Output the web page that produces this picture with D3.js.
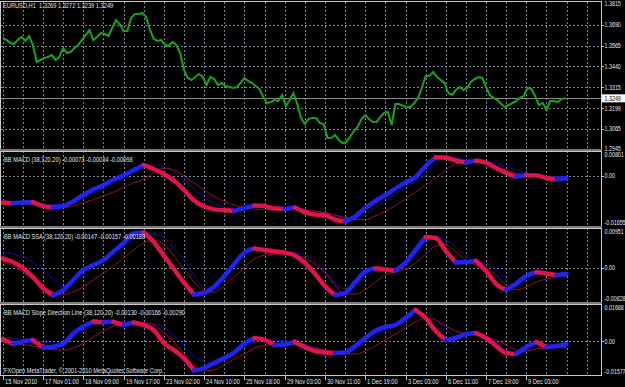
<!DOCTYPE html>
<html><head><meta charset="utf-8">
<script src="https://cdn.jsdelivr.net/npm/d3@7"></script>
<style>
body{margin:0;background:#000}
svg{display:block}
text{font-family:"Liberation Sans",Arial,sans-serif;font-size:6.7px;fill:#e4e4e4;white-space:pre}
</style></head><body>
<script>
// ---------------- DATA ----------------
const symbolTitle = "EURUSD,H1  1.3269 1.3272 1.3239 1.3249";
const lastPrice = 1.3249;
const priceMin = 1.2945, priceMax = 1.3815;
const priceTicks = [1.3690, 1.3565, 1.3440, 1.3315, 1.3190, 1.3065];
const priceTickLabels = ["1.3690", "1.3565", "1.3440", "1.3315", "1.3199", "1.3065"];
const timeLabels = ["15 Nov 2010","17 Nov 01:00","18 Nov 09:00","19 Nov 17:00","23 Nov 02:00","24 Nov 10:00","25 Nov 18:00","29 Nov 03:00","30 Nov 11:00","1 Dec 19:00","3 Dec 03:00","6 Dec 11:00","7 Dec 19:00","9 Dec 03:00"];
const timeLabelBars = [0,32,64,96,128,160,192,224,256,288,320,352,384,416];
const copyright = "FXOpen MetaTrader, \u00A9 2001-2010 MetaQuotes Software Corp.";

// close every 3 H1 bars
const PRICE_STEP = 3;
const priceClose = [1.3611,1.3599,1.3581,1.3575,1.3599,1.3617,1.3593,1.3623,1.3569,1.3467,
1.3479,1.3491,1.3497,1.3509,1.3479,1.3497,1.3551,1.3521,1.3527,1.3551,
1.3569,1.3599,1.3629,1.3659,1.3599,1.3617,1.3641,1.3635,1.3623,1.3671,
1.3719,1.3695,1.3653,1.3653,1.3731,1.3755,1.3755,1.3761,1.3737,1.3659,
1.3605,1.3593,1.3599,1.3569,1.3563,1.3587,1.3569,1.3521,1.3419,1.3371,
1.3359,1.3377,1.3395,1.3377,1.3329,1.3377,1.3365,1.3329,1.3341,1.3323,
1.3317,1.3311,1.3317,1.3341,1.3371,1.3353,1.3341,1.3323,1.3305,1.3257,
1.3221,1.3227,1.3239,1.3233,1.3269,1.3203,1.3239,1.3281,1.3215,1.3131,
1.3095,1.3125,1.3131,1.3131,1.3101,1.3095,1.3011,1.3011,1.3029,1.2999,
1.2981,1.2987,1.3017,1.3053,1.3077,1.3125,1.3149,1.3125,1.3107,1.3107,
1.3137,1.3161,1.3167,1.3089,1.3215,1.3215,1.3203,1.3197,1.3197,1.3221,
1.3251,1.3311,1.3383,1.3383,1.3407,1.3377,1.3359,1.3341,1.3281,1.3269,
1.3299,1.3317,1.3299,1.3311,1.3347,1.3365,1.3377,1.3371,1.3317,1.3269,
1.3251,1.3239,1.3215,1.3197,1.3209,1.3221,1.3233,1.3251,1.3263,1.3311,
1.3305,1.3263,1.3209,1.3221,1.3179,1.3233,1.3233,1.3227,1.3245,1.3249];

// indicators every 8 H1 bars
const IND_STEP = 8;
const macdLine = [-0.00876,-0.00903,-0.00876,-0.00860,-0.00993,-0.01042,-0.00993,-0.00843,-0.00627,-0.00445,
-0.00295,-0.00113,0.00020,0.00203,0.00369,0.00236,0.00070,-0.00146,-0.00461,-0.00810,
-0.01009,-0.01102,-0.01135,-0.01159,-0.01059,-0.00976,-0.00993,-0.01076,-0.01092,-0.01042,
-0.01192,-0.01275,-0.01301,-0.01441,-0.01501,-0.01341,-0.01059,-0.00827,-0.00627,-0.00412,
-0.00212,-0.00030,0.00335,0.00624,0.00608,0.00518,0.00452,0.00508,0.00452,0.00269,
0.00103,-0.00013,0.00030,0.00020,-0.00063,-0.00106,-0.00073];
const macdUpper = [-0.00843,-0.00860,-0.00876,-0.00893,-0.00910,-0.00943,-0.00943,-0.00876,-0.00727,-0.00561,
-0.00395,-0.00229,-0.00063,0.00103,0.00269,0.00369,0.00302,0.00120,-0.00129,-0.00428,
-0.00694,-0.00910,-0.01026,-0.01092,-0.01092,-0.01042,-0.01009,-0.01026,-0.01042,-0.01059,
-0.01109,-0.01159,-0.01208,-0.01291,-0.01391,-0.01424,-0.01291,-0.01059,-0.00827,-0.00594,
-0.00362,-0.00163,0.00103,0.00402,0.00601,0.00601,0.00551,0.00518,0.00485,0.00418,
0.00319,0.00203,0.00103,0.00037,0.00000,-0.00020,-0.00034];
const macdLower = [-0.00893,-0.00910,-0.00926,-0.00943,-0.00976,-0.01009,-0.01042,-0.00993,-0.00893,-0.00777,
-0.00661,-0.00528,-0.00378,-0.00229,-0.00096,0.00120,0.00269,0.00203,0.00003,-0.00229,
-0.00461,-0.00677,-0.00843,-0.00959,-0.01042,-0.01092,-0.01109,-0.01109,-0.01109,-0.01109,
-0.01125,-0.01159,-0.01208,-0.01291,-0.01374,-0.01441,-0.01441,-0.01325,-0.01159,-0.00976,
-0.00760,-0.00528,-0.00295,-0.00046,0.00203,0.00402,0.00485,0.00468,0.00402,0.00302,
0.00203,0.00103,0.00020,-0.00013,-0.00046,-0.00080,-0.00098];

const ssaLine = [0.00232,0.00146,0.00000,-0.00219,-0.00487,-0.00665,-0.00536,-0.00292,-0.00049,0.00073,
0.00195,0.00402,0.00609,0.00841,0.00865,0.00634,0.00305,-0.00024,-0.00353,-0.00646,
-0.00609,-0.00451,-0.00195,0.00097,0.00378,0.00475,0.00439,0.00402,0.00378,0.00305,
0.00122,-0.00134,-0.00439,-0.00658,-0.00609,-0.00341,-0.00085,-0.00007,-0.00037,-0.00061,
0.00134,0.00439,0.00755,0.00731,0.00414,0.00134,0.00146,0.00171,-0.00073,-0.00390,
-0.00536,-0.00378,-0.00195,-0.00097,-0.00134,-0.00171,-0.00147];
const ssaUpper = [0.00390,0.00341,0.00280,0.00146,-0.00049,-0.00268,-0.00463,-0.00414,-0.00146,0.00049,
0.00171,0.00341,0.00536,0.00707,0.00804,0.00816,0.00755,0.00487,0.00195,-0.00171,
-0.00463,-0.00512,-0.00292,0.00024,0.00317,0.00463,0.00451,0.00426,0.00402,0.00378,
0.00317,0.00171,-0.00073,-0.00366,-0.00512,-0.00439,-0.00171,-0.00024,0.00000,-0.00012,
0.00049,0.00317,0.00658,0.00780,0.00682,0.00512,0.00292,0.00171,0.00122,-0.00049,
-0.00292,-0.00439,-0.00317,-0.00195,-0.00146,-0.00146,-0.00157];
const ssaLower = [0.00146,0.00049,-0.00097,-0.00268,-0.00439,-0.00585,-0.00658,-0.00585,-0.00463,-0.00292,
-0.00122,0.00049,0.00244,0.00439,0.00609,0.00682,0.00585,0.00292,-0.00024,-0.00341,
-0.00561,-0.00585,-0.00439,-0.00219,0.00024,0.00219,0.00317,0.00341,0.00341,0.00317,
0.00244,0.00097,-0.00122,-0.00414,-0.00634,-0.00634,-0.00536,-0.00341,-0.00171,-0.00097,
-0.00024,0.00122,0.00341,0.00536,0.00561,0.00390,0.00195,0.00073,0.00000,-0.00171,
-0.00414,-0.00536,-0.00463,-0.00341,-0.00268,-0.00219,-0.00188];

const slopeLine = [0.00103,-0.00131,-0.00014,0.00056,-0.00294,-0.00261,-0.00131,0.00359,0.00686,0.00919,
0.00881,0.00905,0.00756,0.00872,0.00756,0.00522,-0.00084,-0.00410,-0.00807,-0.01367,
-0.01250,-0.01017,-0.00784,-0.00527,-0.00107,0.00149,0.00056,-0.00177,-0.00154,-0.00023,
-0.00271,-0.00457,-0.00527,-0.00550,-0.00527,-0.00224,0.00149,0.00476,0.00662,0.00756,
0.01082,0.01455,0.01082,0.00476,0.00056,0.00149,0.00336,0.00382,0.00149,-0.00224,
-0.00550,-0.00597,-0.00271,-0.00037,-0.00271,-0.00224,-0.00130];
const slopeUpper = [0.00196,0.00149,0.00079,0.00033,-0.00037,-0.00084,-0.00037,0.00196,0.00476,0.00756,
0.00849,0.00895,0.00895,0.00872,0.00849,0.00802,0.00662,0.00243,-0.00224,-0.00690,
-0.00970,-0.01063,-0.00877,-0.00597,-0.00271,-0.00037,0.00079,0.00056,0.00009,-0.00037,
-0.00131,-0.00271,-0.00410,-0.00504,-0.00504,-0.00364,-0.00084,0.00243,0.00522,0.00709,
0.00942,0.01222,0.01269,0.00989,0.00522,0.00243,0.00243,0.00289,0.00243,-0.00037,
-0.00410,-0.00597,-0.00457,-0.00224,-0.00177,-0.00177,-0.00166];
const slopeLower = [-0.00037,-0.00084,-0.00154,-0.00224,-0.00317,-0.00387,-0.00410,-0.00317,-0.00107,0.00196,
0.00476,0.00709,0.00826,0.00849,0.00849,0.00756,0.00429,-0.00037,-0.00597,-0.01157,
-0.01390,-0.01343,-0.01110,-0.00830,-0.00597,-0.00317,-0.00201,-0.00177,-0.00177,-0.00177,
-0.00224,-0.00317,-0.00410,-0.00527,-0.00597,-0.00597,-0.00457,-0.00224,0.00056,0.00336,
0.00616,0.00895,0.01082,0.00989,0.00709,0.00476,0.00336,0.00289,0.00196,0.00056,
-0.00177,-0.00410,-0.00457,-0.00364,-0.00317,-0.00294,-0.00290];

const indicatorTitles = [
  "BB MACD (38,120,20) -0.00073 -0.00034 -0.00098",
  "BB MACD SSA (38,120,20) -0.00147 -0.00157 -0.00188",
  "BB MACD Slope Direction Line (38,120,20) -0.00130 -0.00166 -0.00290"];
const indicatorMin = [-0.01655, -0.00828, -0.01577];
const indicatorMax = [0.00801, 0.00951, 0.01688];
const indicatorMinLabels = ["-0.01655", "-0.00828", "-0.01577"];
const indicatorMaxLabels = ["0.00801", "0.00951", "0.01688"];

// ---------------- LAYOUT ----------------
const W = 625, H = 387;
const PLOT_L = 1, PLOT_R = 601;
const mainBox = {top: 2, bottom: 149};
const indBoxes = [{top:152, bottom:226}, {top:229, bottom:302}, {top:305, bottom:375}];
const sepY = [150, 227, 303];
const GRID = "#7a8796", BLUE = "#2323f0", RED = "#e0144a", NAVY = "#10109a", MAROON = "#961428", GREEN = "#1d9c1d";
const SX = 0.85;   // horizontal text compression (narrow system font look)

const svg = d3.select("body").append("svg").attr("width", W).attr("height", H);
svg.append("rect").attr("width", W).attr("height", H).attr("fill", "#000");
svg.append("clipPath").attr("id", "plotclip").append("rect")
  .attr("x", PLOT_L).attr("y", 0).attr("width", PLOT_R - PLOT_L).attr("height", 376);

function label(xp, yp, txt, fill, sx) {
  const t = svg.append("text").attr("transform", `translate(${xp},${yp}) scale(${sx || SX},1)`)
    .attr("dy", "0.35em").text(txt);
  if (fill) t.style("fill", fill);
  return t;
}

const x = d3.scaleLinear().domain([0, 16]).range([2.7, 2.7 + 20.14]);
const gridBars = d3.range(0, 470, 16);

function vGrid(top, bottom) {
  svg.append("g").selectAll("line").data(gridBars).join("line")
    .attr("x1", d => Math.round(x(d)) + 0.5).attr("x2", d => Math.round(x(d)) + 0.5)
    .attr("y1", top).attr("y2", bottom)
    .attr("stroke", GRID).attr("stroke-width", 1).attr("stroke-dasharray", "2,2");
}
function hGrid(yv) {
  svg.append("line").attr("x1", PLOT_L).attr("x2", PLOT_R)
    .attr("y1", Math.round(yv) + 0.5).attr("y2", Math.round(yv) + 0.5)
    .attr("stroke", GRID).attr("stroke-dasharray", "2,2");
}
function rightLabel(yv, txt, tick) {
  if (tick !== false)
    svg.append("line").attr("x1", PLOT_R).attr("x2", PLOT_R + 3).attr("y1", Math.round(yv) + 0.5).attr("y2", Math.round(yv) + 0.5).attr("stroke", "#c8c8c8");
  label(604.5, yv, txt, null, 0.8);
}

// ---------- main price panel ----------
const yP = d3.scaleLinear().domain([priceMin, priceMax]).range([149, 4]);
vGrid(mainBox.top, mainBox.bottom);
priceTicks.forEach(v => hGrid(yP(v)));
svg.append("line").attr("x1", PLOT_L).attr("x2", PLOT_R)
  .attr("y1", Math.round(yP(lastPrice)) + 0.5).attr("y2", Math.round(yP(lastPrice)) + 0.5)
  .attr("stroke", "#8a8a8a");
svg.append("path").attr("clip-path", "url(#plotclip)")
  .attr("d", d3.line().x((d, i) => x(i * PRICE_STEP)).y(d => yP(d))(priceClose))
  .attr("fill", "none").attr("stroke", GREEN).attr("stroke-width", 2.1).attr("stroke-linejoin", "miter");
label(3, 6, symbolTitle);
rightLabel(yP(priceMax), "1.3815", false);
priceTicks.forEach((v, i) => rightLabel(yP(v), priceTickLabels[i]));
rightLabel(yP(priceMin), "1.2945", false);
const lp = yP(lastPrice);
svg.append("rect").attr("x", 602).attr("y", lp - 4).attr("width", 23).attr("height", 8).attr("fill", "#fff");
label(604.5, lp, "1.3249", "#000", 0.8);

// ---------- indicator panels ----------
const indData = [[macdLine, macdUpper, macdLower], [ssaLine, ssaUpper, ssaLower], [slopeLine, slopeUpper, slopeLower]];
indData.forEach((series, k) => {
  const box = indBoxes[k];
  const y = d3.scaleLinear().domain([indicatorMin[k], indicatorMax[k]]).range([box.bottom, box.top]);
  vGrid(box.top - 1, box.bottom);
  hGrid(y(0));
  const g = svg.append("g").attr("clip-path", "url(#plotclip)");
  const thin = d3.line().x((d, i) => x(i * IND_STEP)).y(d => y(d)).curve(d3.curveMonotoneX);
  g.append("path").attr("d", thin(series[1])).attr("fill", "none").attr("stroke", NAVY).attr("stroke-width", 1);
  g.append("path").attr("d", thin(series[2])).attr("fill", "none").attr("stroke", MAROON).attr("stroke-width", 1);
  // thick line, coloured by direction of change
  const vals = series[0];
  const runs = [];
  for (let i = 1; i < vals.length; i++) {
    const dir = vals[i] >= vals[i - 1] ? "up" : "down";
    if (runs.length && runs[runs.length - 1].dir === dir) runs[runs.length - 1].end = i;
    else runs.push({dir, start: i - 1, end: i});
  }
  const pts = vals.map((v, i) => ({i, v}));
  const thick = d3.line().x(d => x(d.i * IND_STEP)).y(d => y(d.v)).curve(d3.curveMonotoneX);
  runs.forEach(r => {
    g.append("path").attr("d", thick(pts.slice(r.start, r.end + 1)))
      .attr("fill", "none").attr("stroke", r.dir === "up" ? BLUE : RED)
      .attr("stroke-width", 4.5).attr("stroke-linecap", "round").attr("stroke-linejoin", "round");
  });
  label(4, box.top + 7.5, indicatorTitles[k]);
  label(604.5, y(indicatorMax[k]) + 2.5, indicatorMaxLabels[k], null, 0.8);
  rightLabel(y(0), "0.00");
  label(604.5, y(indicatorMin[k]) - 3, indicatorMinLabels[k], null, 0.8);
});

// ---------- frame and separators ----------
svg.append("rect").attr("x", 0.5).attr("y", 1.5).attr("width", PLOT_R).attr("height", 374)
  .attr("fill", "none").attr("stroke", "#c8c8c8");
sepY.forEach(s => {
  svg.append("rect").attr("x", 0).attr("y", s - 1).attr("width", PLOT_R + 1).attr("height", 2).attr("fill", "#7c7c7c");
  svg.append("line").attr("x1", 0).attr("x2", PLOT_R + 1).attr("y1", s + 1.5).attr("y2", s + 1.5).attr("stroke", "#c8c8c8");
});

label(4, 370.7, copyright);

// ---------- time axis ----------
timeLabels.forEach((t, i) => {
  const xv = Math.round(x(timeLabelBars[i])) + 0.5;
  svg.append("line").attr("x1", xv).attr("x2", xv).attr("y1", 376).attr("y2", 380).attr("stroke", "#c8c8c8");
  label(xv + 1.5, 382, t);
});
</script>
</body></html>
